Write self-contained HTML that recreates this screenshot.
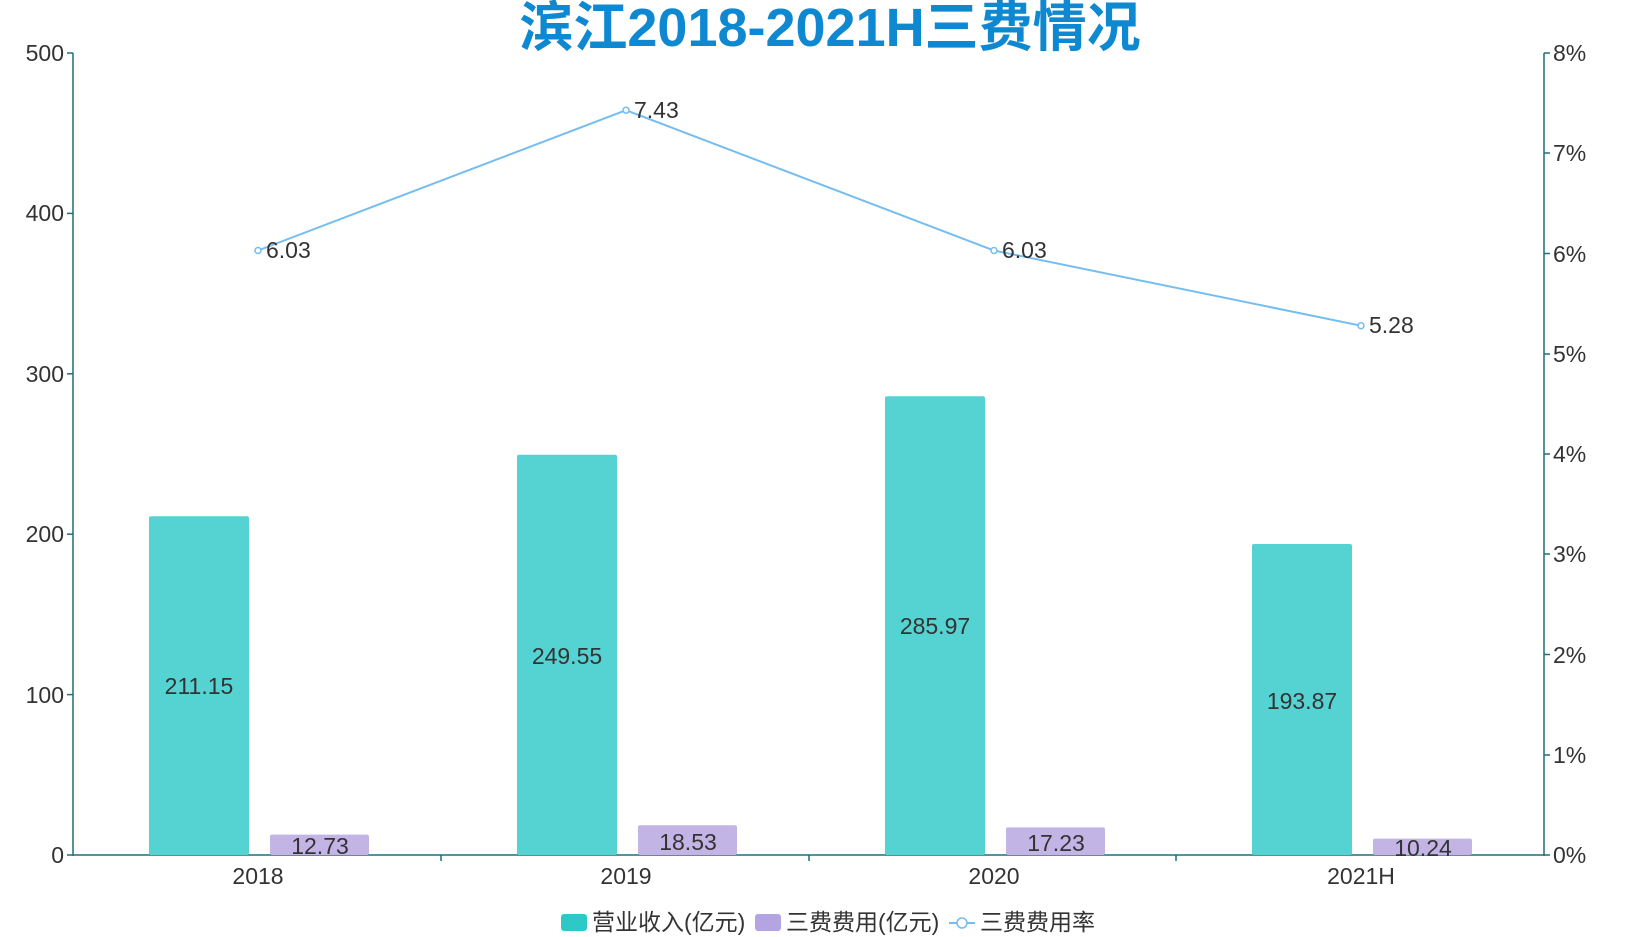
<!DOCTYPE html><html><head><meta charset="utf-8"><style>body{margin:0;background:#fff}svg{display:block}text{font-family:"Liberation Sans","Noto Sans CJK SC",sans-serif;fill:#333}</style></head><body>
<svg width="1650" height="937" viewBox="0 0 1650 937">
<text x="830" y="46" text-anchor="middle" font-size="54" font-weight="bold" style="fill:#0e88d0">滨江2018-2021H三费情况</text>
<g stroke="#1f6f78" stroke-width="1.5" fill="none">
<line x1="73" y1="53" x2="73" y2="856"/><line x1="1544" y1="53" x2="1544" y2="856"/><line x1="67" y1="855" x2="1550" y2="855"/>
<line x1="67" y1="53" x2="73" y2="53"/><line x1="67" y1="213.4" x2="73" y2="213.4"/><line x1="67" y1="373.8" x2="73" y2="373.8"/><line x1="67" y1="534.2" x2="73" y2="534.2"/><line x1="67" y1="694.6" x2="73" y2="694.6"/>
<line x1="441" y1="855" x2="441" y2="861"/><line x1="809" y1="855" x2="809" y2="861"/><line x1="1176" y1="855" x2="1176" y2="861"/>
</g>
<g stroke="#1f6f78" stroke-width="1.5">
<line x1="1544" y1="53" x2="1550" y2="53"/><line x1="1544" y1="153" x2="1550" y2="153"/><line x1="1544" y1="253.5" x2="1550" y2="253.5"/><line x1="1544" y1="354" x2="1550" y2="354"/><line x1="1544" y1="454" x2="1550" y2="454"/><line x1="1544" y1="554" x2="1550" y2="554"/><line x1="1544" y1="654.5" x2="1550" y2="654.5"/><line x1="1544" y1="755" x2="1550" y2="755"/>
</g>
<g font-size="23" text-anchor="end">
<text x="64" y="61">500</text><text x="64" y="221">400</text><text x="64" y="382">300</text><text x="64" y="542">200</text><text x="64" y="703">100</text><text x="64" y="863">0</text>
</g>
<g font-size="23">
<text x="1553" y="61">8%</text><text x="1553" y="161">7%</text><text x="1553" y="262">6%</text><text x="1553" y="362">5%</text><text x="1553" y="462">4%</text><text x="1553" y="562">3%</text><text x="1553" y="663">2%</text><text x="1553" y="763">1%</text><text x="1553" y="863">0%</text>
</g>
<g font-size="23" text-anchor="middle">
<text x="258" y="884">2018</text><text x="626" y="884">2019</text><text x="994" y="884">2020</text><text x="1361" y="884">2021H</text>
</g>
<g fill="#55d2d2">
<rect x="149" y="516.3" width="100" height="338.7" rx="2"/>
<rect x="517" y="454.7" width="100" height="400.3" rx="2"/>
<rect x="885" y="396.3" width="100" height="458.7" rx="2"/>
<rect x="1252" y="544" width="100" height="311" rx="2"/>
</g>
<g fill="#c3b4e6">
<rect x="270" y="834.6" width="99" height="20.4" rx="2"/>
<rect x="638" y="825.3" width="99" height="29.7" rx="2"/>
<rect x="1006" y="827.4" width="99" height="27.6" rx="2"/>
<rect x="1373" y="838.6" width="99" height="16.4" rx="2"/>
</g>
<g font-size="23" text-anchor="middle" style="fill:#444">
<text x="199" y="694">211.15</text><text x="567" y="664">249.55</text><text x="935" y="634">285.97</text><text x="1302" y="709">193.87</text>
<text x="320" y="854">12.73</text><text x="688" y="850">18.53</text><text x="1056" y="851">17.23</text><text x="1423" y="856">10.24</text>
</g>
<polyline points="258,250.5 626,110.2 994,250.5 1361,325.7" fill="none" stroke="#75bdf0" stroke-width="2"/>
<g fill="#fff" stroke="#75bdf0" stroke-width="1.5">
<circle cx="258" cy="250.5" r="3"/><circle cx="626" cy="110.2" r="3"/><circle cx="994" cy="250.5" r="3"/><circle cx="1361" cy="325.7" r="3"/>
</g>
<g font-size="23">
<text x="266" y="258">6.03</text><text x="634" y="118">7.43</text><text x="1002" y="258">6.03</text><text x="1369" y="333">5.28</text>
</g>
<g font-size="23">
<rect x="561" y="914" width="26" height="17" rx="3" fill="#2ec8c8"/><text x="592" y="930">营业收入(亿元)</text>
<rect x="755" y="914" width="26" height="17" rx="3" fill="#b4a4e2"/><text x="786" y="930">三费费用(亿元)</text>
<line x1="949" y1="923" x2="975" y2="923" stroke="#75bdf0" stroke-width="2"/><circle cx="962" cy="923" r="5" fill="#fff" stroke="#75bdf0" stroke-width="1.5"/><text x="980" y="930">三费费用率</text>
</g>
</svg></body></html>
